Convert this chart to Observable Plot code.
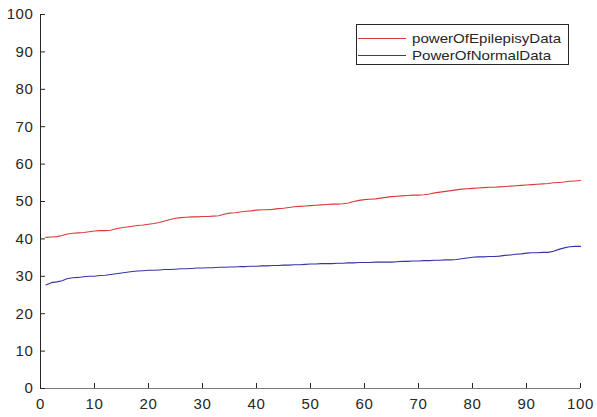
<!DOCTYPE html>
<html>
<head>
<meta charset="utf-8">
<script src="https://cdn.jsdelivr.net/npm/d3@7"></script>
<script src="https://cdn.jsdelivr.net/npm/@observablehq/plot@0.6"></script>
<style>
  html, body { margin: 0; padding: 0; background: #fff; }
  #wrap { position: relative; width: 597px; height: 417px; font-family: "Liberation Sans", Arial, sans-serif; }
  #wrap svg text { letter-spacing: 0.6px; }
  #legend { position: absolute; left: 356px; top: 24px; width: 211px; height: 39px; border: 1px solid #262626; background: #fff; box-sizing: content-box; }
  .row { position: absolute; left: 0; height: 16px; display: flex; align-items: center; font-size: 13px; color: #262626; white-space: nowrap; }
  .sw { display: inline-block; width: 48px; height: 0; border-top: 1px solid; margin-left: 1px; margin-right: 6px; }
  .lt { display: inline-block; transform: scaleX(1.16); transform-origin: left center; }
</style>
</head>
<body>
<div id="wrap"></div>
<script>
const xs = d3.range(1, 101);
const seriesNames = ["powerOfEpilepisyData", "PowerOfNormalData"];
const seriesColors = ["#dc3a3a", "#3535a5"];
const epilepsy = [
  40.4,40.5,40.6,40.9,41.3,41.5,41.6,41.7,41.9,42.1,
  42.2,42.2,42.3,42.7,43.0,43.2,43.4,43.6,43.7,43.9,
  44.1,44.4,44.8,45.2,45.5,45.7,45.8,45.9,45.9,46.0,
  46.0,46.1,46.2,46.6,46.9,47.0,47.2,47.4,47.5,47.7,
  47.8,47.8,47.9,48.1,48.2,48.4,48.6,48.7,48.8,48.9,
  49.0,49.1,49.2,49.3,49.3,49.4,49.6,50.0,50.3,50.5,
  50.6,50.7,50.9,51.1,51.3,51.4,51.5,51.6,51.7,51.7,
  51.8,52.0,52.3,52.5,52.7,52.9,53.1,53.3,53.4,53.5,
  53.6,53.7,53.8,53.8,53.9,54.0,54.1,54.2,54.3,54.4,
  54.5,54.6,54.7,54.8,55.0,55.1,55.2,55.4,55.5,55.6
];
const normal = [
  27.7,28.3,28.5,28.8,29.4,29.6,29.7,29.9,30.0,30.0,
  30.2,30.3,30.5,30.7,30.9,31.1,31.3,31.4,31.5,31.6,
  31.6,31.7,31.8,31.8,31.9,32.0,32.0,32.1,32.2,32.2,
  32.3,32.3,32.4,32.4,32.5,32.5,32.6,32.6,32.7,32.7,
  32.8,32.8,32.9,32.9,33.0,33.0,33.1,33.1,33.2,33.3,
  33.3,33.4,33.4,33.4,33.5,33.5,33.6,33.6,33.7,33.7,
  33.7,33.8,33.8,33.8,33.8,33.9,34.0,34.0,34.1,34.1,
  34.2,34.2,34.3,34.3,34.4,34.4,34.5,34.7,34.9,35.1,
  35.2,35.2,35.3,35.3,35.4,35.6,35.7,35.9,36.0,36.2,
  36.3,36.3,36.4,36.4,36.7,37.2,37.6,37.9,38.0,38.0
];
const xTicks = [0,10,20,30,40,50,60,70,80,90,100];
const yTicks = [0,10,20,30,40,50,60,70,80,90,100];

const rows = [];
xs.forEach((x, i) => {
  rows.push({x, y: epilepsy[i], s: seriesNames[0]});
  rows.push({x, y: normal[i], s: seriesNames[1]});
});

const chart = Plot.plot({
  width: 597,
  height: 417,
  marginLeft: 40,
  marginRight: 17,
  marginTop: 14,
  marginBottom: 29,
  style: { fontFamily: "Liberation Sans, Arial, sans-serif", fontSize: "15px", color: "#262626", background: "#fff" },
  x: { domain: [0, 100] },
  y: { domain: [0, 100] },
  color: { domain: seriesNames, range: seriesColors },
  marks: [
    Plot.lineY(rows, { x: "x", y: "y", z: "s", stroke: "s", strokeWidth: 1.1 }),
    Plot.ruleY([0], { stroke: "#7a7a7a", strokeWidth: 1 }),
    Plot.ruleX([0], { stroke: "#262626", strokeWidth: 1 }),
    Plot.axisX(xTicks, { tickSize: -5, tickPadding: 15, label: null, stroke: "#262626", fill: "#262626", fontSize: 15 }),
    Plot.axisY(yTicks, { tickSize: -5, tickPadding: 12, label: null, stroke: "#262626", fill: "#262626", fontSize: 15 })
  ]
});

const wrap = document.getElementById("wrap");
wrap.appendChild(chart);

const legend = document.createElement("div");
legend.id = "legend";
seriesNames.forEach((name, i) => {
  const row = document.createElement("div");
  row.className = "row";
  row.style.top = (5 + i * 17) + "px";
  const sw = document.createElement("span");
  sw.className = "sw";
  sw.style.borderColor = seriesColors[i];
  const t = document.createElement("span");
  t.className = "lt";
  t.textContent = name;
  row.appendChild(sw);
  row.appendChild(t);
  legend.appendChild(row);
});
wrap.appendChild(legend);
</script>
</body>
</html>
